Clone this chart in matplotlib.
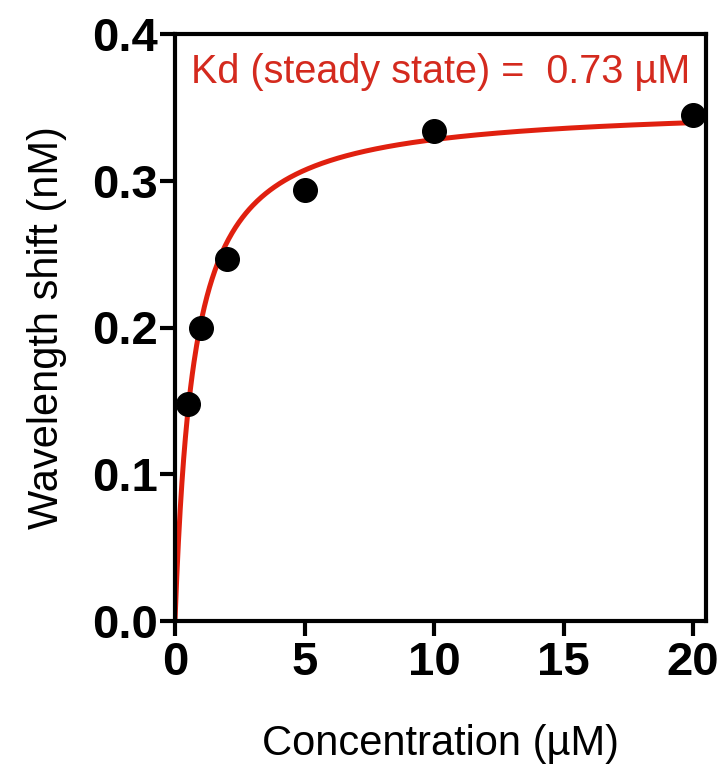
import numpy as np
import matplotlib
matplotlib.use("Agg")
import matplotlib.pyplot as plt

plt.rcParams['font.family'] = ['Liberation Sans', 'DejaVu Sans']

# Data
concentration = [0.5, 1, 2, 5, 10, 20]
shift = [0.148, 0.200, 0.247, 0.294, 0.334, 0.345]
kd = 0.73
bmax = 0.352
xticks = [0, 5, 10, 15, 20]
yticks = [0.0, 0.1, 0.2, 0.3, 0.4]

fig = plt.figure(figsize=(7.21, 7.66), dpi=100)
ax = fig.add_axes([175/721, 1 - 621/766, (706-175)/721, (621-34)/766])

xfit = np.linspace(0, 20, 600)
yfit = bmax * xfit / (kd + xfit)
ax.plot(xfit, yfit, color='#e0200f', lw=3.6, zorder=2, solid_capstyle='round')
ax.plot(concentration, shift, 'o', color='black', ms=17, zorder=3, clip_on=False)

ax.set_xlim(0, 20.5)
ax.set_ylim(0, 0.4)
ax.set_xticks(xticks)
ax.set_xticklabels([str(t) for t in xticks])
ax.set_yticks(yticks)
ax.set_yticklabels([f"{t:.1f}" for t in yticks])

for s in ax.spines.values():
    s.set_linewidth(3)
ax.tick_params(direction='out', length=10.5, width=3, labelsize=34)
ax.tick_params(axis='y', pad=2)
ax.tick_params(axis='x', pad=4)
for lab in ax.get_xticklabels() + ax.get_yticklabels():
    lab.set_fontweight('bold')

ax.set_xlabel('Concentration (µM)', fontsize=30, labelpad=28)
ax.set_ylabel('Wavelength shift (nM)', fontsize=30, labelpad=18)

ax.text(0.03, 0.935, 'Kd (steady state) =  0.73 µM', transform=ax.transAxes,
        color='#d42a1e', fontsize=28.5, ha='left', va='center')

fig.savefig('out.png', dpi=100)
